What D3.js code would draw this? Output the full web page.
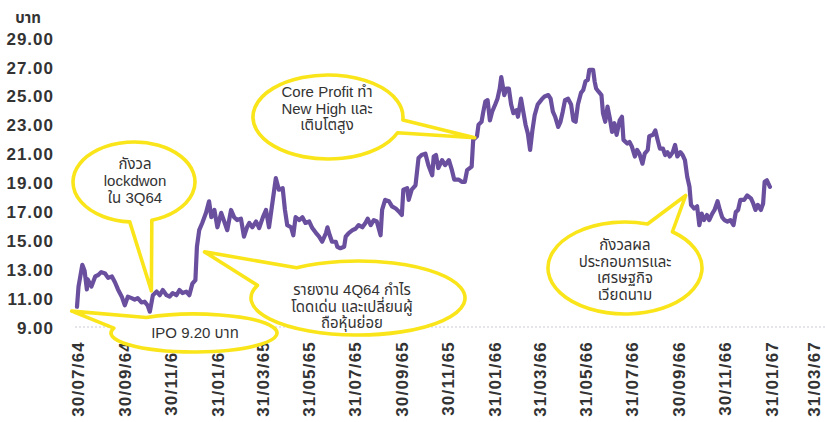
<!DOCTYPE html>
<html>
<head>
<meta charset="utf-8">
<script src="https://cdn.jsdelivr.net/npm/d3@7"></script>
<style>
  html, body { margin: 0; padding: 0; background: #fff; }
  svg { display: block; }
</style>
</head>
<body>
<svg id="chart" width="825" height="422"></svg>
<script>
// ---------------- DATA ----------------
const ipoDate = "2021-07-30";           // 30/07/64 (B.E.)
// calendar days after the first trading day
const dayOffsets = [0,2,7,10,13,14,19,24,28,32,37,41,46,50,54,59,63,67,72,76,80,85,89,93,96,100,105,109,113,118,122,126,131,135,139,144,148,152,156,158,161,165,170,174,177,181,185,190,194,198,203,207,211,216,220,224,227,231,236,240,245,249,253,258,262,266,271,274,277,282,285,288,293,297,301,306,310,315,319,323,328,330,333,336,341,343,347,352,354,358,363,367,371,376,380,383,387,391,395,400,402,406,411,415,420,424,428,430,435,437,441,446,450,454,459,463,468,470,473,476,481,485,490,494,497,503,507,511,514,520,522,527,529,533,535,538,541,544,547,551,554,557,559,563,566,569,572,575,579,581,585,588,591,594,597,600,603,607,610,613,616,621,624,627,630,634,637,640,643,647,651,654,657,660,664,667,670,673,675,680,682,684,687,691,693,696,699,702,705,708,711,715,718,720,725,728,731,735,738,741,745,748,752,754,759,762,765,768,772,775,778,781,785,788,791,795,798,801,804,807,809,813,817,820,823,826,830,833,837,840,844,847,850,853,857,861,865,868,871,874,879,883,888,891,894,897,901,904,906,909,913];
// share price (baht)
const prices = [10.4,11.8,13.3,12.9,11.6,12.3,11.8,12.5,12.6,12.8,12.7,12.4,12.5,12.1,11.6,11.1,10.5,11.1,11.0,10.9,11.0,10.7,10.75,10.5,10.06,11.2,11.45,11.2,11.56,11.2,11.1,11.35,11.2,11.56,11.35,11.45,11.2,12.0,12.25,14.55,15.7,16.2,16.9,17.7,16.6,17.1,15.9,16.9,16.3,15.7,17.1,16.6,16.4,16.5,15.25,15.9,16.2,15.9,16.3,15.85,16.6,17.1,15.9,17.8,19.3,18.5,18.6,17.1,16.05,15.9,15.35,16.6,16.4,16.6,16.2,16.3,15.85,15.5,15.25,14.9,15.5,15.9,15.35,14.9,14.9,14.55,14.45,14.55,15.25,15.5,15.7,15.8,16.05,15.9,16.2,16.5,16.05,16.4,16.3,15.35,17.1,17.8,17.7,17.35,17.2,17.0,16.75,18.5,18.6,17.8,18.5,18.8,20.7,20.9,21.0,20.2,19.5,20.8,20.9,20.0,20.55,20.2,20.55,19.85,19.2,19.2,19.05,19.05,19.85,20.1,21.95,22.2,23.0,23.2,23.8,24.6,24.7,23.3,23.9,24.4,24.8,25.5,26.3,25.05,25.5,25.5,24.4,23.8,24.0,23.55,24.8,23.9,23.0,22.4,21.25,22.6,23.65,24.4,24.6,24.8,24.95,25.05,24.8,23.9,23.55,22.85,23.2,23.9,24.7,24.8,24.4,23.3,23.2,24.4,25.2,25.4,26.0,26.1,26.8,26.8,26.0,25.5,25.3,25.05,23.8,23.2,24.25,23.45,22.5,23.1,22.3,23.3,23.55,21.95,21.7,21.8,21.5,20.8,21.25,21.0,20.3,21.0,21.25,22.2,22.3,22.6,21.95,21.35,21.35,20.9,21.1,20.8,21.1,21.6,20.8,21.1,20.9,20.55,19.4,18.7,17.45,17.2,17.35,16.05,16.85,16.4,16.75,16.4,16.85,17.1,17.7,17.1,16.6,16.4,16.3,16.4,16.05,16.95,17.1,17.8,17.8,18.1,17.9,17.55,17.1,17.45,17.1,17.55,19.05,19.15,18.7];

const yTicks = [9, 11, 13, 15, 17, 19, 21, 23, 25, 27, 29];
const xTickLabels = ["30/07/64","30/09/64","30/11/64","31/01/65","31/03/65","31/05/65","31/07/65","30/09/65","30/11/65","31/01/66","31/03/66","31/05/66","31/07/66","30/09/66","30/11/66","31/01/67","31/03/67"];
const yUnit = "บาท";

// annotation texts and the (day offset, price) each bubble points at
const noteIpo      = { lines: ["IPO 9.20 บาท"], day: -7, price: 10.1 };
const noteLockdown = { lines: ["กังวล", "lockdwon", "ใน 3Q64"], day: 98, price: 11.5 };
const noteReport   = { lines: ["รายงาน 4Q64 กำไร", "โดดเด่น และเปลี่ยนผู้", "ถือหุ้นย่อย"], day: 168, price: 14.2 };
const noteCore     = { lines: ["Core Profit ทำ", "New High และ", "เติบโตสูง"], day: 524, price: 22.1 };
const noteVietnam  = { lines: ["กังวลผล", "ประกอบการและ", "เศรษฐกิจ", "เวียดนาม"], day: 802, price: 18.1 };

// ---------------- HELPERS ----------------
const parseThai = s => {
  const [d, m, y] = s.split("/").map(Number);
  return new Date(2500 + y - 543, m - 1, d);
};
const start = d3.timeParse("%Y-%m-%d")(ipoDate);
const dayToDate = off => d3.timeDay.offset(start, off);

const n = Math.min(dayOffsets.length, prices.length);
const series = d3.range(n).map(i => ({ date: dayToDate(dayOffsets[i]), value: prices[i] }));
const tickDates = xTickLabels.map(parseThai);

// ---------------- SCALES ----------------
const svg = d3.select("#chart");
const x = d3.scaleTime()
  .domain([tickDates[0], tickDates[tickDates.length - 1]])
  .range([77, 817]);
const y = d3.scaleLinear().domain([9, 29]).range([327, 38]);

const axisFont = "'Liberation Sans', Arial, Helvetica, sans-serif";
const noteFont = "'Liberation Sans', Arial, 'Noto Sans Thai', 'Noto Sans', sans-serif";

// baseline grid (dotted)
svg.append("line")
  .attr("x1", 75).attr("x2", 825)
  .attr("y1", y(9)).attr("y2", y(9))
  .attr("stroke", "#c9c9d6").attr("stroke-width", 1)
  .attr("stroke-dasharray", "2,2");

// Y axis
const yAxis = d3.axisLeft(y).tickValues(yTicks).tickFormat(d3.format(".2f")).tickSize(0).tickPadding(0);
const gy = svg.append("g").attr("transform", "translate(54,0)").call(yAxis);
gy.select(".domain").remove();
gy.selectAll("text")
  .attr("font-family", axisFont).attr("font-weight", "bold")
  .attr("font-size", 17).attr("letter-spacing", "1px")
  .attr("fill", "#333").attr("dy", "0.36em");

svg.append("text")
  .attr("x", 28).attr("y", 23)
  .attr("text-anchor", "middle")
  .attr("font-family", noteFont).attr("font-weight", "bold")
  .attr("font-size", 15).attr("fill", "#333")
  .text(yUnit);

// X axis
const xAxis = d3.axisBottom(x).tickValues(tickDates)
  .tickFormat((d, i) => xTickLabels[i]).tickSize(0).tickPadding(0);
const gx = svg.append("g").attr("transform", "translate(0,341)").call(xAxis);
gx.select(".domain").remove();
const lastIdx = xTickLabels.length - 1;
gx.selectAll("text")
  .attr("font-family", axisFont).attr("font-weight", "bold")
  .attr("font-size", 17).attr("letter-spacing", "1.2px")
  .attr("fill", "#333")
  .attr("text-anchor", "end")
  .attr("transform", (d, i) => (i === lastIdx ? "translate(-4,0) " : "") + "rotate(-90)")
  .attr("x", 0).attr("y", 0).attr("dy", "0.36em");

// Price line
const line = d3.line().x(d => x(d.date)).y(d => y(d.value)).curve(d3.curveLinear);
svg.append("path")
  .datum(series)
  .attr("d", line)
  .attr("fill", "none")
  .attr("stroke", "#6a4f9f")
  .attr("stroke-width", 4.2)
  .attr("stroke-linejoin", "round")
  .attr("stroke-linecap", "round");

// ---------------- CALLOUTS ----------------
function bubble(note, cx, cy, rx, ry, a1, a2, tx, ty0, lh) {
  const tip = [x(dayToDate(note.day)), y(note.price)];
  const P = a => [cx + rx * Math.cos(a * Math.PI / 180), cy + ry * Math.sin(a * Math.PI / 180)];
  const p1 = P(a1), p2 = P(a2);
  const span = 360 - (a2 - a1);
  const d = `M${p1[0]},${p1[1]} L${tip[0]},${tip[1]} L${p2[0]},${p2[1]} ` +
            `A${rx},${ry} 0 ${span > 180 ? 1 : 0} 1 ${p1[0]},${p1[1]} Z`;
  const g = svg.append("g");
  g.append("path").attr("d", d)
    .attr("fill", "#fff").attr("stroke", "#f9e51a")
    .attr("stroke-width", 3.6).attr("stroke-linejoin", "round");
  g.selectAll("text").data(note.lines).join("text")
    .attr("x", tx).attr("y", (s, i) => ty0 + i * lh)
    .attr("text-anchor", "middle")
    .attr("font-family", noteFont).attr("font-size", 15)
    .attr("fill", "#333")
    .text(s => s);
}

bubble(noteIpo,      194, 333, 83, 19, 195, 235, 195, 338, 16);
bubble(noteReport,   358, 298, 107, 37, 200, 235, 352, 295, 16.5);
bubble(noteLockdown, 134, 182, 61, 40, 73, 94, 135, 169, 17);
bubble(noteCore,     328, 117, 75, 42, 4, 22, 327, 97, 16.5);
bubble(noteVietnam,  625, 268, 77, 46, 287, 308, 625, 250, 16.5);
</script>
</body>
</html>
